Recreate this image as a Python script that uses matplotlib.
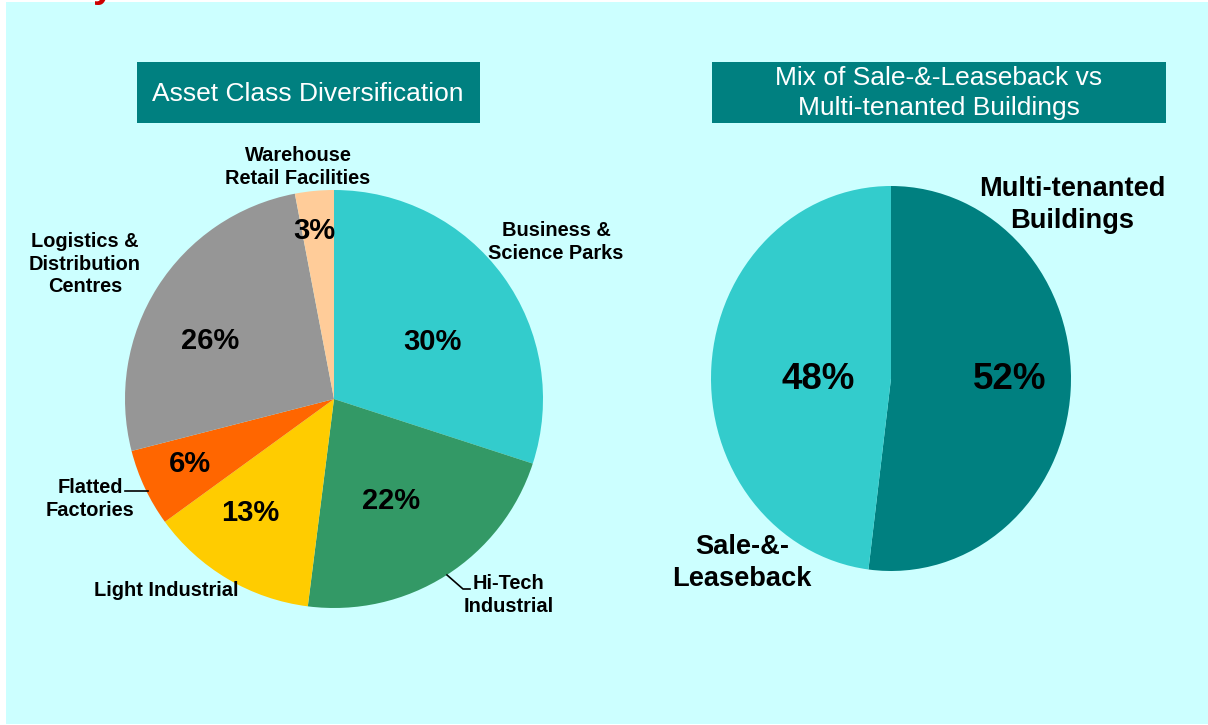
import matplotlib
matplotlib.use("Agg")
import matplotlib.pyplot as plt
from matplotlib.patches import Rectangle

plt.rcParams['font.family'] = ['Liberation Sans', 'DejaVu Sans']

# asset class split (%), clockwise from 12 o'clock
asset_labels = ['Business &\nScience Parks', 'Hi-Tech\nIndustrial', 'Light Industrial',
                'Flatted\nFactories', 'Logistics &\nDistribution\nCentres',
                'Warehouse\nRetail Facilities']
asset_pct = [30, 22, 13, 6, 26, 3]
asset_colors = ['#33CCCC', '#339966', '#FFCC00', '#FF6600', '#969696', '#FFCC99']

# sale-&-leaseback vs multi-tenanted (%)
mix_labels = ['Multi-tenanted\nBuildings', 'Sale-&-\nLeaseback']
mix_pct = [52, 48]
mix_colors = ['#008080', '#33CCCC']

W, H = 1208, 725
fig = plt.figure(figsize=(W / 100, H / 100), dpi=100, facecolor='white')

# background panel
bg = fig.add_axes([0, 0, 1, 1])
bg.set_xlim(0, W)
bg.set_ylim(H, 0)
bg.axis('off')
bg.add_patch(Rectangle((6, 2), W - 6, 722, facecolor='#CCFFFF', edgecolor='none'))


def pie_axes(x0, y0, x1, y1):
    a = fig.add_axes([x0 / W, 1 - y1 / H, (x1 - x0) / W, (y1 - y0) / H])
    return a


ax1 = pie_axes(125, 190, 543, 608)
ax1.pie(asset_pct, colors=asset_colors, startangle=90, counterclock=False,
        wedgeprops=dict(linewidth=0))
ax1.set_xlim(-1, 1)
ax1.set_ylim(-1, 1)
ax1.set_aspect('auto')

ax2 = pie_axes(711, 186, 1071, 571)
ax2.pie(mix_pct, colors=mix_colors, startangle=90, counterclock=False,
        wedgeprops=dict(linewidth=0))
ax2.set_xlim(-1, 1)
ax2.set_ylim(-1, 1)
ax2.set_aspect('auto')

# overlay for text, pixel coordinates
ax = fig.add_axes([0, 0, 1, 1])
ax.set_xlim(0, W)
ax.set_ylim(H, 0)
ax.axis('off')

# title boxes
ax.add_patch(Rectangle((137, 62), 343, 61, facecolor='#008080', edgecolor='none'))
ax.text(308, 94, 'Asset Class Diversification', color='white', fontsize=19,
        ha='center', va='center')
ax.add_patch(Rectangle((712, 62), 454, 61, facecolor='#008080', edgecolor='none'))
ax.text(939, 93, 'Mix of Sale-&-Leaseback vs\nMulti-tenanted Buildings', color='white',
        fontsize=19, ha='center', va='center', linespacing=1.27)

# cut-off heading above the panel
ax.text(104, -3, 'y', color='#CC0000', fontsize=28, fontweight='bold',
        ha='center', va='baseline')

# category labels
lab_pos = [(556, 242), (509, 595), (166, 590), (90, 499), (85, 264), (298, 167)]
for lab, (x, y) in zip(asset_labels, lab_pos):
    ax.text(x, y, lab, fontsize=14.4, fontweight='bold', ha='center', va='center',
            linespacing=1.22)

pct_pos = [(432, 342), (391, 501), (250, 513), (190, 464), (210, 341), (314, 231)]
for v, (x, y) in zip(asset_pct, pct_pos):
    ax.text(x, y, f'{v}%', fontsize=21, fontweight='bold', ha='center', va='center')

# leader lines
ax.plot([125, 148], [491, 491], color='black', lw=1.2)
ax.plot([447, 463, 470], [575, 589, 589], color='black', lw=1.2)

mix_lab_pos = [(1072, 205), (742, 563)]
for lab, (x, y) in zip(mix_labels, mix_lab_pos):
    ax.text(x, y, lab, fontsize=19.6, fontweight='bold', ha='center', va='center',
            linespacing=1.33)

mix_pct_pos = [(1010, 379), (818, 379)]
for v, (x, y) in zip(mix_pct, mix_pct_pos):
    ax.text(x, y, f'{v}%', fontsize=26.5, fontweight='bold', ha='center', va='center')

fig.savefig('out.png', dpi=100, facecolor='white')
